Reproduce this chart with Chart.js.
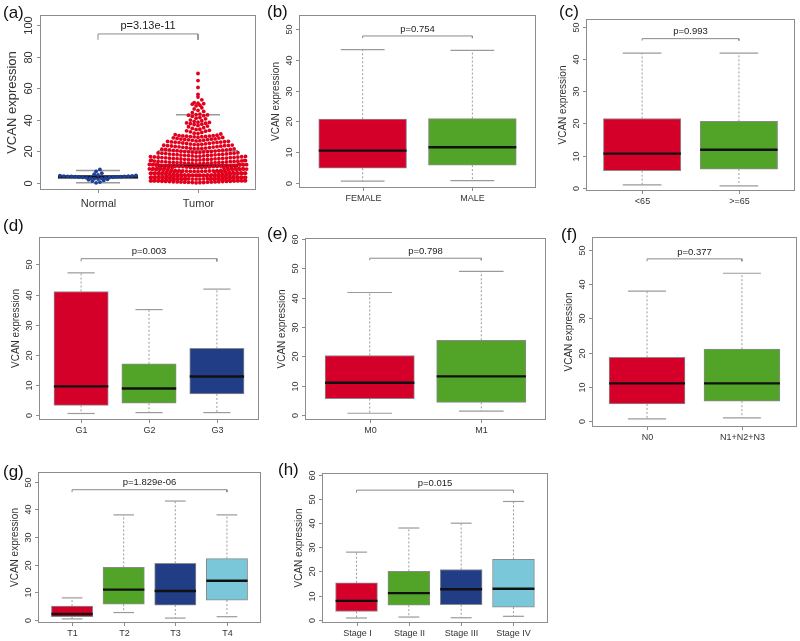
<!DOCTYPE html>
<html lang="en">
<head>
<meta charset="UTF-8">
<title>VCAN expression</title>
<script src="https://cdn.jsdelivr.net/npm/chart.js"></script>
<style>
  body { margin: 0; background: #fff; }
  #wrap { position: relative; width: 800px; height: 641px; }
  #wrap canvas { position: absolute; left: 0; top: 0; }
</style>
</head>
<body>
<div id="wrap"></div>
<script>
// ---- data ----
const normalValues = [0.1, 0.6, 1.2, 1.6, 2.0, 2.3, 2.5, 2.7, 2.9, 3.0, 3.2, 3.3, 3.5, 3.6, 3.7, 3.8,
  3.9, 4.0, 4.0, 4.1, 4.2, 4.2, 4.3, 4.4, 4.5, 4.6, 4.8, 5.1, 5.6, 6.2, 7.3, 8.6];
const tumorValues = [
  0.1, 0.2, 0.3, 0.3, 0.4, 0.5, 0.5, 0.6, 0.6, 0.7, 0.7, 0.8, 0.8, 0.9, 0.9, 1.0, 1.0, 1.1, 1.1, 1.2,
  1.2, 1.3, 1.3, 1.4, 1.4, 1.5, 1.5, 1.6, 1.6, 1.7, 1.7, 1.8, 1.8, 1.9, 1.9, 2.0, 2.0, 1.5,
  2.1, 2.1, 2.2, 2.2, 2.3, 2.3, 2.4, 2.4, 2.5, 2.5, 2.6, 2.6, 2.7, 2.7, 2.8, 2.8, 2.9, 2.9, 3.0, 3.0,
  3.1, 3.1, 3.2, 3.2, 3.3, 3.3, 3.4, 3.4, 3.5, 3.5, 3.6, 3.6, 3.7, 3.7, 3.8, 3.8, 3.9, 3.9, 4.0, 4.0,
  2.5, 3.0, 3.5, 3.9,
  4.1, 4.1, 4.2, 4.2, 4.3, 4.3, 4.4, 4.4, 4.5, 4.5, 4.6, 4.6, 4.7, 4.7, 4.8, 4.8, 4.9, 4.9, 5.0, 5.0,
  5.1, 5.1, 5.2, 5.2, 5.3, 5.3, 5.4, 5.4, 5.5, 5.5, 5.6, 5.6, 5.7, 5.7, 5.8, 5.8, 5.9, 5.9, 6.0, 6.0,
  6.1, 6.2, 6.3, 6.4, 6.5, 6.6, 6.7, 6.8, 6.9, 7.0, 7.1, 7.2, 7.3, 7.4, 7.5, 7.6, 7.7, 7.8, 7.9, 8.0,
  6.2, 6.4, 6.5, 6.7, 6.9, 7.0, 7.2, 7.3, 7.5, 7.6, 7.8, 7.9, 6.6, 7.4,
  8.1, 8.2, 8.3, 8.4, 8.5, 8.6, 8.7, 8.8, 8.9, 9.0, 9.1, 9.2, 9.3, 9.4, 9.5, 9.6, 9.7, 9.8, 9.9, 10.0,
  8.2, 8.5, 8.8, 9.0, 9.2, 9.4, 9.6, 9.8, 8.6, 9.3,
  10.1, 10.2, 10.3, 10.4, 10.5, 10.6, 10.7, 10.8, 10.9, 11.0, 11.1, 11.2, 11.3, 11.4, 11.5, 11.6, 11.7, 11.8, 11.9, 12.0,
  10.4, 10.8, 11.2, 11.5, 10.9, 11.7,
  12.1, 12.2, 12.3, 12.4, 12.5, 12.6, 12.7, 12.8, 12.9, 13.0, 13.1, 13.2, 13.3, 13.4, 13.5, 13.6, 13.7, 13.8, 13.9, 14.0,
  12.5, 13.0, 13.5, 12.8,
  14.1, 14.2, 14.3, 14.4, 14.5, 14.6, 14.7, 14.8, 14.9, 15.0, 15.1, 15.2, 15.3, 15.4, 15.5, 15.6, 15.7, 15.8, 15.9, 16.0,
  14.6, 15.4,
  16.1, 16.2, 16.3, 16.4, 16.5, 16.6, 16.7, 16.8, 16.9, 17.0, 17.1, 17.2, 17.3, 17.4, 17.5, 17.6, 17.7, 17.8, 17.9, 18.0,
  18.1, 18.2, 18.3, 18.4, 18.6, 18.7, 18.8, 18.9, 19.0, 19.2, 19.3, 19.4, 19.5, 19.6, 19.7, 19.8, 19.9, 20.0,
  20.1, 20.2, 20.4, 20.5, 20.6, 20.8, 20.9, 21.0, 21.2, 21.3, 21.4, 21.6, 21.7, 21.8, 21.9, 22.0,
  22.1, 22.3, 22.4, 22.6, 22.7, 22.9, 23.0, 23.1, 23.3, 23.4, 23.6, 23.7, 23.8, 23.9, 24.0,
  24.2, 24.3, 24.5, 24.6, 24.8, 25.0, 25.1, 25.3, 25.4, 25.6, 25.7, 25.8, 25.9, 26.0,
  26.1, 26.3, 26.4, 26.6, 26.8, 27.0, 27.1, 27.3, 27.4, 27.6, 27.7, 27.8, 27.9,
  28.2, 28.4, 28.6, 28.8, 29.0, 29.2, 29.3, 29.4, 29.5, 29.6, 29.7, 29.8, 29.9, 30.0,
  30.2, 30.6, 31.0, 31.4, 31.5, 32.0, 32.4, 32.8, 33.0, 33.3, 33.9, 34.0, 34.5, 35.0,
  35.6, 36.0, 36.4, 37.0, 37.2, 37.6, 37.8, 38.0, 38.3, 38.5, 39.0, 39.4, 39.8,
  40.6, 41.0, 41.4, 42.2, 42.6, 42.9, 43.1, 43.3, 43.6, 44.5,
  45.3, 46.0, 46.9, 47.6, 48.8, 49.2, 49.9,
  50.2, 50.5, 50.8, 52.6, 54.4,
  56.1, 60.5, 64.8, 69.3
];

// box statistics: lower whisker, Q1, median, Q3, upper whisker
const aGroups = ['Normal', 'Tumor'];
const aLower = [0.1, 0.5], aQ1 = [2.6, 4.7], aMedian = [3.9, 10.9], aQ3 = [4.6, 20.6], aUpper = [7.9, 43.2];
const aTicks = [0, 20, 40, 60, 80, 100];

const bGroups = ['FEMALE', 'MALE'];
const bLower = [0.6, 0.8], bQ1 = [4.8, 5.8], bMedian = [10.5, 11.6], bQ3 = [20.7, 20.9], bUpper = [43.3, 43.0];
const bTicks = [0, 10, 20, 30, 40, 50];

const cGroups = ['<65', '>=65'];
const cLower = [0.9, 0.6], cQ1 = [5.3, 5.8], cMedian = [10.6, 11.8], cQ3 = [21.5, 20.6], cUpper = [41.8, 41.8];
const cTicks = [0, 10, 20, 30, 40, 50];

const dGroups = ['G1', 'G2', 'G3'];
const dLower = [0.5, 0.8, 0.8], dQ1 = [3.2, 3.9, 7.0], dMedian = [9.5, 8.8, 12.8], dQ3 = [41.0, 17.0, 22.1], dUpper = [47.2, 35.0, 41.8];
const dTicks = [0, 10, 20, 30, 40, 50];

const eGroups = ['M0', 'M1'];
const eLower = [0.6, 1.3], eQ1 = [5.6, 4.3], eMedian = [11.0, 13.2], eQ3 = [20.3, 25.5], eUpper = [41.8, 49.0];
const eTicks = [0, 10, 20, 30, 40, 50, 60];

const fGroups = ['N0', 'N1+N2+N3'];
const fLower = [0.6, 0.9], fQ1 = [5.0, 5.8], fMedian = [11.0, 11.0], fQ3 = [18.6, 21.0], fUpper = [38.0, 43.2];
const fTicks = [0, 10, 20, 30, 40, 50];

const gGroups = ['T1', 'T2', 'T3', 'T4'];
const gLower = [0.4, 2.7, 0.7, 1.2], gQ1 = [1.2, 5.7, 5.4, 7.2], gMedian = [2.2, 11.0, 10.5, 14.2], gQ3 = [5.0, 19.0, 20.5, 22.2], gUpper = [8.0, 38.0, 43.0, 38.0];
const gTicks = [0, 10, 20, 30, 40, 50];

const hGroups = ['Stage I', 'Stage II', 'Stage III', 'Stage IV'];
const hLower = [0.7, 1.1, 0.8, 1.4], hQ1 = [3.4, 6.0, 6.2, 5.2], hMedian = [7.8, 11.0, 12.6, 12.8], hQ3 = [15.3, 20.0, 20.8, 25.0], hUpper = [28.0, 38.0, 40.0, 49.0];
const hTicks = [0, 10, 20, 30, 40, 50, 60];

const pLabels = ['p=3.13e-11', 'p=0.754', 'p=0.993', 'p=0.003', 'p=0.798', 'p=0.377', 'p=1.829e-06', 'p=0.015'];
// significance bracket: [top, end of the drop]
const pBrackets = [[94.3, 90.6], [47.7, 47.0], [46.3, 45.7], [51.9, 51.0], [53.5, 52.8], [47.4, 46.7], [47.1, 46.2], [53.7, 52.7]];

// ---- styles ----
const RED = '#d5002a', GREEN = '#52a428', NAVY = '#203d85', SKY = '#7bc7da';
const FRAME = '#8c8c8c', EDGE = '#8a8a8a', WHISK = '#9a9a9a';
const FONT = '"Liberation Sans", Arial, sans-serif';

// panel layout: frame box in px [left, top, right, bottom], y range, label spots
const panels = [
  { key: 'a', groups: aGroups, lower: aLower, q1: aQ1, median: aMedian, q3: aQ3, upper: aUpper, ticks: aTicks,
    box: [40, 15, 256, 190], y: [-4.43, 106.3], fills: ['rgba(0,0,0,0)', 'rgba(0,0,0,0)'],
    letter: [3, 13], big: true },
  { key: 'b', groups: bGroups, lower: bLower, q1: bQ1, median: bMedian, q3: bQ3, upper: bUpper, ticks: bTicks,
    box: [299, 15, 536, 188], y: [-1.62, 54.5], fills: [RED, GREEN], letter: [267, 12] },
  { key: 'c', groups: cGroups, lower: cLower, q1: cQ1, median: cMedian, q3: cQ3, upper: cUpper, ticks: cTicks,
    box: [586, 19, 795, 191], y: [-1.0, 52.4], fills: [RED, GREEN], letter: [559, 12] },
  { key: 'd', groups: dGroups, lower: dLower, q1: dQ1, median: dMedian, q3: dQ3, upper: dUpper, ticks: dTicks,
    box: [39, 237, 259, 420], y: [-1.66, 59.1], fills: [RED, GREEN, NAVY], letter: [3, 226] },
  { key: 'e', groups: eGroups, lower: eLower, q1: eQ1, median: eMedian, q3: eQ3, upper: eUpper, ticks: eTicks,
    box: [305, 238, 546, 420], y: [-1.7, 60.4], fills: [RED, GREEN], letter: [267, 234] },
  { key: 'f', groups: fGroups, lower: fLower, q1: fQ1, median: fMedian, q3: fQ3, upper: fUpper, ticks: fTicks,
    box: [592, 237, 797, 427], y: [-1.76, 53.8], fills: [RED, GREEN], letter: [561, 235] },
  { key: 'g', groups: gGroups, lower: gLower, q1: gQ1, median: gMedian, q3: gQ3, upper: gUpper, ticks: gTicks,
    box: [38, 472, 261, 623], y: [-1.08, 53.5], fills: [RED, GREEN, NAVY, SKY], letter: [3, 472] },
  { key: 'h', groups: hGroups, lower: hLower, q1: hQ1, median: hMedian, q3: hQ3, upper: hUpper, ticks: hTicks,
    box: [322, 473, 548, 623], y: [-1.37, 60.8], fills: [RED, GREEN, NAVY, SKY], letter: [278, 470] }
];

// R-style x range: 0.5 .. n+0.5, widened by 4%
function xRange(n) {
  const pad = n * 0.04;
  return [0.5 - pad, n + 0.5 + pad];
}

// beeswarm "center" style: points binned into rows one dot high,
// filled from the middle outwards, wrapped at +-limit px
function beeRows(values, pxPerY, d, limit) {
  const bins = {};
  values.forEach((v, i) => {
    const b = Math.floor(v * pxPerY / d);
    (bins[b] = bins[b] || []).push(i);
  });
  const out = new Array(values.length);
  Object.values(bins).forEach(list => {
    list.sort((a, b) => values[a] - values[b]);
    const n = list.length;
    const slots = [];
    for (let s = 0; s < n; s++) slots.push((s - (n - 1) / 2) * d);
    slots.sort((a, b) => Math.abs(a) - Math.abs(b) || a - b);
    list.forEach((i, j) => {
      let x = slots[j];
      while (x > limit) x -= 2 * limit;
      while (x < -limit) x += 2 * limit;
      out[i] = x;
    });
  });
  return out;
}

function buildDatasets(p, k) {
  const n = p.groups.length;
  const xr = xRange(n);
  const unitPx = (p.box[2] - p.box[0]) / (xr[1] - xr[0]);
  const pos = p.groups.map((g, i) => i + 1);
  const whiskers = [];
  pos.forEach((x, i) => {
    whiskers.push({ x, y: p.q3[i] }, { x, y: p.upper[i] }, { x, y: null },
                  { x, y: p.q1[i] }, { x, y: p.lower[i] }, { x, y: null });
  });
  const br = pBrackets[k];
  const sets = [
    { type: 'bar', data: pos.map((x, i) => ({ x, y: [p.q1[i], p.q3[i]] })),
      backgroundColor: p.fills, borderColor: p.big ? '#9a9a9a' : EDGE, borderWidth: 1,
      borderSkipped: false, barThickness: unitPx * 0.8, order: 4 },
    { type: 'line', data: whiskers, borderColor: WHISK, borderWidth: 1, borderDash: [2, 2],
      pointRadius: 0, spanGaps: false, order: 5 },
    { type: 'scatter', data: pos.flatMap((x, i) => [{ x, y: p.upper[i] }, { x, y: p.lower[i] }]),
      pointStyle: 'line', pointRadius: unitPx * (p.big ? 0.22 : 0.2), pointBorderColor: WHISK,
      pointBorderWidth: p.big ? 1.5 : 1.2, order: 3 },
    { type: 'scatter', data: pos.map((x, i) => ({ x, y: p.median[i] })),
      pointStyle: 'line', pointRadius: unitPx * 0.4, pointBorderColor: '#111',
      pointBorderWidth: p.big ? 3 : 2.4, order: 2 },
    { type: 'line', data: [{ x: 1, y: br[1] }, { x: 1, y: br[0] }, { x: n, y: br[0] }, { x: n, y: br[1] }],
      borderColor: '#8a8a8a', borderWidth: 1, pointRadius: 0, order: 6 }
  ];
  if (p.big) {
    const pxPerY = (p.box[3] - p.box[1]) / (p.y[1] - p.y[0]);
    const nOff = beeRows(normalValues, pxPerY, 3.8, 40);
    const tOff = beeRows(tumorValues, pxPerY, 3.8, 49);
    sets.push(
      { type: 'scatter', data: normalValues.map((v, i) => ({ x: 1 + nOff[i] / unitPx, y: v })),
        pointRadius: 1.9, pointBackgroundColor: '#1e3f96', pointBorderWidth: 0, order: 0 },
      { type: 'scatter', data: tumorValues.map((v, i) => ({ x: 2 + tOff[i] / unitPx, y: v })),
        pointRadius: 1.9, pointBackgroundColor: '#e2001d', pointBorderWidth: 0, order: 1 }
    );
  }
  return sets;
}

// frame, R-like axes and labels drawn with the chart's own scales
function rAxes(p, k) {
  return {
    id: 'rAxes' + p.key,
    afterDatasetsDraw(chart) {
      const { ctx, chartArea: a, scales: { x, y } } = chart;
      const tickFont = p.big ? 11 : 9;
      ctx.save();
      ctx.strokeStyle = FRAME;
      ctx.lineWidth = 1;
      ctx.strokeRect(Math.round(a.left) + 0.5, Math.round(a.top) + 0.5,
                     Math.round(a.right - a.left) - 1, Math.round(a.bottom - a.top) - 1);
      ctx.fillStyle = '#333';
      ctx.font = tickFont + 'px ' + FONT;
      ctx.textAlign = 'center';
      ctx.textBaseline = 'middle';
      // y ticks, labels turned like R's las=0
      p.ticks.forEach(v => {
        const py = Math.round(y.getPixelForValue(v)) + 0.5;
        ctx.beginPath();
        ctx.moveTo(a.left, py);
        ctx.lineTo(a.left - 3, py);
        ctx.stroke();
        ctx.save();
        ctx.translate(a.left - (p.big ? 11 : 9), py);
        ctx.rotate(-Math.PI / 2);
        ctx.fillText(String(v), 0, 0);
        ctx.restore();
      });
      // x ticks and group names
      p.groups.forEach((g, i) => {
        const px = Math.round(x.getPixelForValue(i + 1)) + 0.5;
        ctx.beginPath();
        ctx.moveTo(px, a.bottom);
        ctx.lineTo(px, a.bottom + 3);
        ctx.stroke();
        ctx.fillText(g, px, a.bottom + (p.big ? 14 : 11));
      });
      // axis title
      ctx.save();
      ctx.font = (p.big ? 13 : 10) + 'px ' + FONT;
      ctx.translate(a.left - (p.big ? 28 : 23), (a.top + a.bottom) / 2);
      ctx.rotate(-Math.PI / 2);
      ctx.fillText('VCAN expression', 0, 0);
      ctx.restore();
      // p value over the bracket
      ctx.fillStyle = '#222';
      ctx.font = (p.big ? 11 : 9.5) + 'px ' + FONT;
      const mid = (x.getPixelForValue(1) + x.getPixelForValue(p.groups.length)) / 2;
      ctx.fillText(pLabels[k], mid, y.getPixelForValue(pBrackets[k][0]) - (p.big ? 8 : 7));
      // panel letter
      ctx.fillStyle = '#111';
      ctx.font = '17px ' + FONT;
      ctx.textAlign = 'left';
      ctx.fillText('(' + p.key + ')', p.letter[0], p.letter[1]);
      ctx.restore();
    }
  };
}

const wrap = document.getElementById('wrap');
panels.forEach((p, k) => {
  const canvas = document.createElement('canvas');
  canvas.width = 800;
  canvas.height = 641;
  wrap.appendChild(canvas);
  const xr = xRange(p.groups.length);
  new Chart(canvas.getContext('2d'), {
    type: 'scatter',
    data: { datasets: buildDatasets(p, k) },
    options: {
      responsive: false,
      animation: false,
      events: [],
      layout: { autoPadding: false, padding: { left: p.box[0], top: p.box[1], right: 800 - p.box[2], bottom: 641 - p.box[3] } },
      plugins: { legend: { display: false }, tooltip: { enabled: false } },
      scales: {
        x: { type: 'linear', display: false, offset: false, min: xr[0], max: xr[1] },
        y: { type: 'linear', display: false, min: p.y[0], max: p.y[1] }
      }
    },
    plugins: [rAxes(p, k)]
  });
});
</script>
</body>
</html>
